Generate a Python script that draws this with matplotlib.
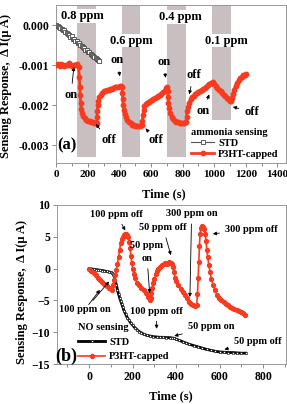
import matplotlib
matplotlib.use('Agg')
import matplotlib.pyplot as plt
from matplotlib.ticker import MultipleLocator

plt.rcParams['font.family'] = ['Liberation Serif', 'DejaVu Serif']
plt.rcParams['font.weight'] = 'bold'
plt.rcParams['axes.labelweight'] = 'bold'

# ---- panel (a): ammonia sensing ----
std_a_t = [0, 8, 16, 24, 32, 40, 48, 56, 64, 72, 80, 88, 96, 104, 112, 120, 128,
           136, 144, 152, 160, 168, 176, 184, 192, 200, 208, 216, 224, 232, 240,
           248, 256, 264, 270]
std_a_v = [0.00, -0.03, -0.04, -0.08, -0.09, -0.13, -0.13, -0.18, -0.19, -0.23,
           -0.24, -0.29, -0.28, -0.34, -0.35, -0.40, -0.41, -0.45, -0.46, -0.51,
           -0.52, -0.56, -0.57, -0.62, -0.63, -0.68, -0.68, -0.73, -0.74, -0.78,
           -0.79, -0.83, -0.84, -0.88, -0.89]

p3ht_a_t = [0, 10, 20, 30, 40, 50, 60, 70, 80, 90, 100, 110, 120, 130, 140, 145,
            148, 150, 153, 156, 160, 170, 180, 190, 200, 210, 220, 230, 240, 250,
            257, 258, 259, 262, 266, 272, 280, 290, 300, 310, 320, 330, 340, 350,
            360, 370, 380, 390, 400, 410, 415, 418, 420, 423, 427, 432, 440, 450,
            460, 470, 480, 490, 500, 510, 520, 530, 540, 545, 548, 552, 558, 565,
            575, 585, 595, 605, 615, 625, 635, 645, 655, 665, 675, 685, 695, 700,
            704, 707, 710, 714, 720, 730, 740, 750, 760, 770, 780, 790, 800, 810,
            820, 825, 828, 832, 840, 850, 860, 870, 880, 890, 900, 910, 920, 930,
            940, 950, 960, 970, 980, 990, 1000, 1010, 1020, 1030, 1040, 1050,
            1060, 1070, 1080, 1090, 1100, 1107, 1112, 1117, 1125, 1135, 1145,
            1155, 1165, 1175, 1185, 1195, 1200]
p3ht_a_v = [-1.00, -0.98, -1.02, -0.97, -1.00, -1.03, -0.99, -1.01, -0.96, -1.00,
            -1.02, -0.99, -1.01, -0.98, -1.05, -1.30, -1.55, -1.75, -1.95, -2.10,
            -2.20, -2.28, -2.33, -2.37, -2.40, -2.41, -2.42, -2.43, -2.44, -2.45,
            -2.44, -2.30, -2.15, -2.00, -1.90, -1.80, -1.75, -1.70, -1.66, -1.66,
            -1.63, -1.62, -1.60, -1.59, -1.57, -1.56, -1.55, -1.54, -1.53, -1.52,
            -1.56, -1.70, -1.85, -2.00, -2.13, -2.22, -2.30, -2.38, -2.42, -2.46,
            -2.49, -2.51, -2.52, -2.53, -2.53, -2.52, -2.50, -2.40, -2.25, -2.12,
            -2.03, -1.98, -1.95, -1.92, -1.90, -1.87, -1.85, -1.82, -1.80, -1.77,
            -1.75, -1.72, -1.68, -1.64, -1.58, -1.55, -1.65, -1.80, -1.95, -2.08,
            -2.20, -2.30, -2.35, -2.40, -2.42, -2.43, -2.44, -2.45, -2.45, -2.44,
            -2.43, -2.30, -2.15, -2.05, -1.95, -1.85, -1.80, -1.77, -1.73, -1.70,
            -1.68, -1.66, -1.63, -1.60, -1.57, -1.54, -1.51, -1.48, -1.45, -1.42,
            -1.47, -1.53, -1.58, -1.62, -1.66, -1.70, -1.74, -1.78, -1.82, -1.86,
            -1.89, -1.90, -1.82, -1.72, -1.62, -1.52, -1.44, -1.38, -1.32, -1.29,
            -1.26, -1.24, -1.22]

gas_on = [131, 413, 700, 987]
gas_off = [251, 527, 820, 1107]
gas_ppm = ['0.8 ppm', '0.6 ppm', '0.4 ppm', '0.1 ppm']

# ---- panel (b): NO sensing ----
std_b_t = [0, 10, 20, 30, 40, 50, 60, 70, 80, 90, 100, 105, 110, 115, 120, 125,
           130, 135, 140, 145, 150, 155, 160, 168, 175, 183, 190, 200, 210, 220,
           230, 240, 250, 265, 280, 295, 310, 325, 340, 355, 370, 380, 390, 400,
           415, 430, 445, 460, 480, 500, 520, 540, 560, 580, 600, 620, 640, 660,
           680, 700, 720]
std_b_v = [0.0, -0.05, -0.1, -0.15, -0.2, -0.25, -0.3, -0.37, -0.45, -0.52, -0.6,
           -0.7, -0.8, -1.3, -1.9, -2.6, -3.3, -4.0, -4.6, -5.1, -5.6, -6.1, -6.6,
           -7.2, -7.7, -8.1, -8.5, -8.9, -9.3, -9.6, -9.9, -10.1, -10.3, -10.5,
           -10.6, -10.7, -10.75, -10.8, -10.8, -10.85, -10.85, -10.9, -10.95,
           -11.1, -11.3, -11.5, -11.7, -11.9, -12.1, -12.3, -12.5, -12.7, -12.85,
           -13.0, -13.1, -13.15, -13.2, -13.2, -13.25, -13.3, -13.3]

p3ht_b_t = [0, 10, 20, 30, 40, 50, 60, 70, 80, 90, 100, 105, 110, 115, 120, 125,
            130, 135, 140, 145, 150, 155, 160, 165, 170, 175, 180, 184, 188, 192,
            196, 200, 205, 210, 220, 230, 240, 250, 260, 270, 278, 282, 286, 290,
            295, 300, 305, 310, 318, 326, 334, 342, 350, 358, 366, 374, 380, 385,
            390, 395, 400, 410, 420, 430, 440, 450, 460, 470, 478, 486, 494, 498,
            501, 504, 507, 510, 514, 518, 522, 528, 533, 537, 541, 545, 550, 556,
            562, 570, 578, 588, 598, 608, 618, 628, 638, 648, 658, 668, 678, 688,
            698, 708, 716]
p3ht_b_v = [0.0, -0.3, -0.7, -1.0, -1.4, -1.8, -2.1, -2.4, -2.7, -3.0, -3.2, -3.3,
            -2.6, -1.8, -1.0, -0.2, 0.8, 1.8, 3.0, 4.0, 4.6, 5.0, 5.3, 5.4, 5.4,
            5.3, 5.0, 4.2, 3.2, 2.0, 0.9, 0.0, -0.8, -1.5, -2.2, -2.6, -3.0, -3.4,
            -3.9, -4.4, -4.9, -4.6, -3.8, -3.0, -2.3, -1.6, -0.9, -0.4, 0.0, 0.3,
            0.5, 0.8, 0.9, 0.7, 1.0, 0.9, 0.8, 0.2, -0.6, -1.4, -2.0, -2.6, -3.2,
            -3.7, -4.2, -4.7, -5.3, -5.6, -5.8, -5.9, -5.8, -4.0, -1.5, 1.0, 3.5,
            5.5, 6.4, 6.7, 6.6, 6.2, 5.5, 4.3, 3.0, 1.8, 0.6, -0.6, -1.7, -2.6,
            -3.4, -4.1, -4.6, -5.0, -5.3, -5.5, -5.8, -6.0, -6.2, -6.3, -6.5, -6.6,
            -6.8, -7.0, -7.3]

RED = '#f83a1f'
BAR = '#c9bfc0'
ylab = 'Sensing Response,  \u0394 I(\u03bc A)'

fig = plt.figure(figsize=(2.87, 4.04), dpi=100)

# ---------------- (a) ----------------
ax1 = fig.add_axes([0.1951, 0.5965, 0.8014, 0.3911])
ax1.set_xlim(-3, 1455)
ax1.set_ylim(-0.00345, 0.0005)
ylo, yhi = ax1.get_ylim()
bar_bottom = [-0.0033, -0.0033, -0.0033, -0.002375]
for x0, x1, b in zip(gas_on, gas_off, bar_bottom):
    ax1.axvspan(x0, x1, ymin=(b - ylo) / (yhi - ylo), ymax=1, color=BAR,
                lw=0, zorder=0)

ax1.plot(std_a_t, [v * 1e-3 for v in std_a_v], '-s', color='#555555', lw=0.8,
         ms=3, mfc='white', mec='#444444', mew=0.6, label='STD', zorder=3)
ax1.plot(p3ht_a_t, [v * 1e-3 for v in p3ht_a_v], '-o', color=RED, lw=2,
         ms=3.2, mec=RED, label='P3HT-capped', zorder=4)

lab_pos = [(165, 0.00022), (475, -0.00039), (785, 0.0002), (1080, -0.00039)]
for (x, y), s in zip(lab_pos, gas_ppm):
    ax1.text(x, y, s, ha='center', va='center', fontsize=9,
             bbox=dict(fc='white', ec='none', pad=0.5), zorder=5)

arr = dict(arrowstyle='-|>', color='black', lw=0.6, mutation_scale=5)
notes_a = [('on', (92, -0.00175), (112, -0.00098)),
           ('on', (384, -0.00088), (405, -0.00135)),
           ('off', (331, -0.00287), (238, -0.00242)),
           ('on', (679, -0.00092), (694, -0.00139)),
           ('off', (633, -0.00287), (553, -0.00254)),
           ('off', (869, -0.00125), (838, -0.00180)),
           ('on', (928, -0.00214), (975, -0.00167)),
           ('off', (1238, -0.00217), (1101, -0.00203))]
for s, xy_t, xy in notes_a:
    ax1.annotate(s, xy=xy, xytext=xy_t, ha='center', va='center', fontsize=9,
                 arrowprops=arr, zorder=6)
ax1.text(68, -0.003, '(a)', fontsize=12, ha='center', va='center')

leg1 = ax1.legend(loc='lower right', bbox_to_anchor=(1.0, -0.02),
                  title='ammonia sensing', frameon=False, fontsize=7.5,
                  title_fontsize=7.5, handlelength=2.2, handletextpad=0.4,
                  labelspacing=0.15, borderpad=0.2, alignment='left')
leg1.get_title().set_fontweight('bold')

ax1.xaxis.set_major_locator(MultipleLocator(200))
ax1.xaxis.set_minor_locator(MultipleLocator(100))
ax1.yaxis.set_major_locator(MultipleLocator(0.001))
ax1.yaxis.set_major_formatter(matplotlib.ticker.FormatStrFormatter('%.3f'))
ax1.set_xlabel('Time (s)', fontsize=9)
ax1.xaxis.set_label_coords(0.47, -0.16)
ax1.set_ylabel(ylab, fontsize=9)
ax1.yaxis.set_label_coords(-0.19, 0.49)

# ---------------- (b) ----------------
ax2 = fig.add_axes([0.1986, 0.099, 0.7979, 0.3936])
ax2.set_xlim(-148, 905)
ax2.set_ylim(-15, 10)
ax2.plot(std_b_t, std_b_v, '-s', color='black', lw=2.0, ms=1.8, mfc='white',
         mec='black', mew=0.4, label='STD', zorder=3)
ax2.plot(p3ht_b_t, p3ht_b_v, '-o', color=RED, lw=1.2, ms=2.8, mec=RED,
         label='P3HT-capped', zorder=4)

notes_b = [('100 ppm off', (126, 8.5), (172, 5.6)),
           ('50 ppm\non', (264, 2.6), (279, -4.3)),
           ('50 ppm off', (340, 6.4), (379, 1.7)),
           ('300 ppm on', (471, 8.6), (463, -4.9)),
           ('300 ppm off', (745, 6.2), (556, 5.4)),
           ('100 ppm on', (-20, -6.5), (100, -1.7)),
           ('100 ppm off', (310, -6.7), (310, -9.9)),
           ('50 ppm on', (560, -9.1), (379, -10.7)),
           ('50 ppm off', (775, -11.5), (609, -12.8))]
for s, xy_t, xy in notes_b:
    ax2.annotate(s, xy=xy, xytext=xy_t, ha='center', va='center', fontsize=7.5,
                 arrowprops=arr, zorder=6, linespacing=1.6)
ax2.annotate('', xy=(57, -3.0), xytext=(-10, -6.0), arrowprops=arr)
ax2.text(-104, -13.8, '(b)', fontsize=13, ha='center', va='center')

leg2 = ax2.legend(loc='lower left', bbox_to_anchor=(0.06, -0.03),
                  title='NO sensing', frameon=False, fontsize=7.5,
                  title_fontsize=7.5, handlelength=2.6, handletextpad=0.4,
                  labelspacing=0.5, borderpad=0.2, alignment='left')
leg2.get_title().set_fontweight('bold')

ax2.xaxis.set_major_locator(MultipleLocator(200))
ax2.xaxis.set_minor_locator(MultipleLocator(100))
ax2.yaxis.set_major_locator(MultipleLocator(5))
ax2.set_xlabel('Time (s)', fontsize=9)
ax2.xaxis.set_label_coords(0.495, -0.165)
ax2.set_ylabel(ylab, fontsize=9)
ax2.yaxis.set_label_coords(-0.125, 0.45)

for ax in (ax1, ax2):
    for sp in ax.spines.values():
        sp.set_color('#999999')
        sp.set_linewidth(0.7)
    ax.tick_params(which='both', direction='out', labelsize=8.5, width=0.6,
                   color='#777777', pad=2)
    ax.tick_params(which='major', length=3)
    ax.tick_params(which='minor', length=1.8)
ax1.tick_params(axis='x', labelsize=8)

fig.savefig('out.png', dpi=100)
